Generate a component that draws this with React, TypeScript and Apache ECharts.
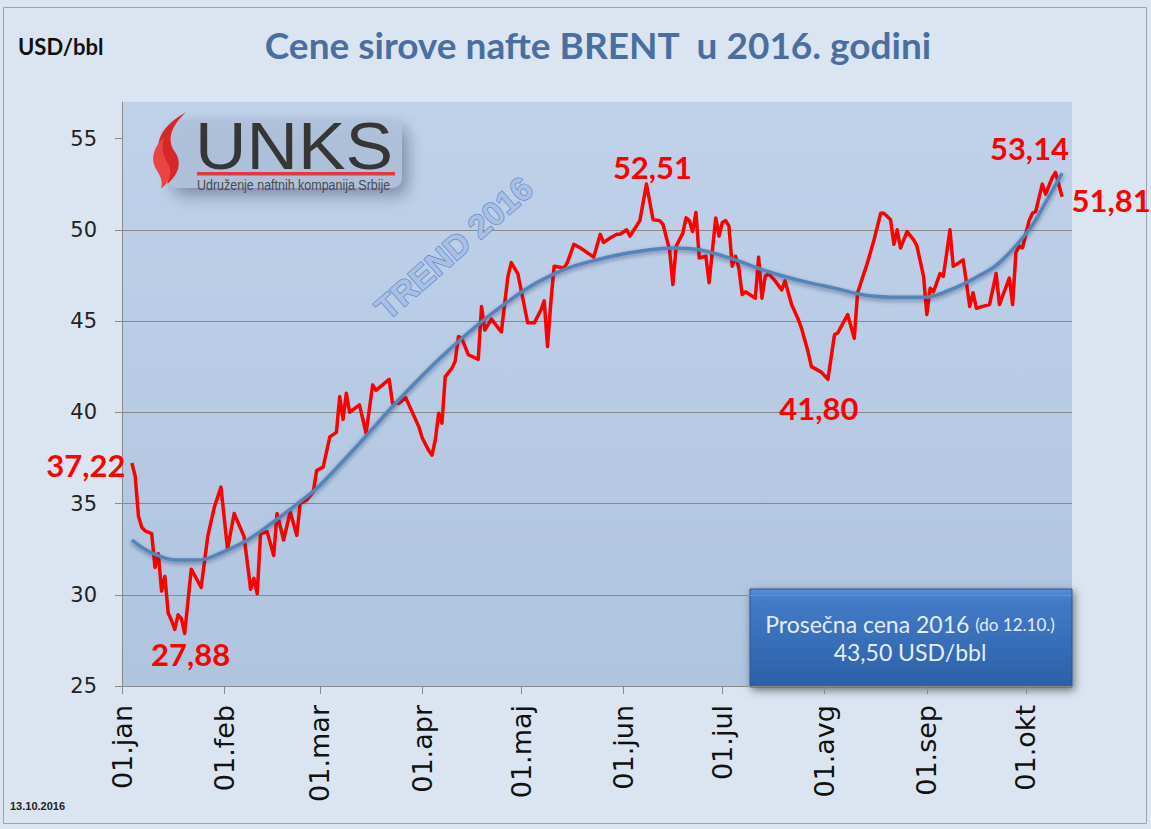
import React, { useEffect, useRef } from 'react';
import * as echarts from 'echarts';

// ---- data ----
const axisStart = '2016-01-01';
const axisEnd = '2016-10-15';
const monthNames = ['jan', 'feb', 'mar', 'apr', 'maj', 'jun', 'jul', 'avg', 'sep', 'okt', 'nov', 'dec'];
const yTicks = [25, 30, 35, 40, 45, 50, 55];

const priceDates = [
  '01-04', '01-05', '01-06', '01-07', '01-08', '01-10', '01-11', '01-12', '01-13', '01-14', '01-15', '01-16', '01-17', '01-18', '01-19', '01-20',
  '01-22', '01-25', '01-27', '01-29', '01-31', '02-02', '02-04', '02-07', '02-09', '02-10', '02-11', '02-12', '02-14', '02-16', '02-17', '02-19',
  '02-21', '02-23', '02-24', '02-26', '02-28', '02-29', '03-02', '03-04', '03-06', '03-07', '03-08', '03-09', '03-10', '03-13', '03-15', '03-17',
  '03-18', '03-20', '03-22', '03-23', '03-25', '03-27', '03-30', '03-31', '04-01', '04-03', '04-04', '04-05', '04-06', '04-07', '04-08', '04-10',
  '04-11', '04-12', '04-13', '04-15', '04-18', '04-19', '04-20', '04-22', '04-25', '04-27', '04-28', '04-30', '05-01', '05-03', '05-05', '05-07',
  '05-08', '05-09', '05-10', '05-11', '05-14', '05-15', '05-17', '05-19', '05-23', '05-25', '05-26', '05-28', '05-30', '05-31', '06-02', '06-03',
  '06-06', '06-08', '06-10', '06-12', '06-13', '06-15', '06-16', '06-17', '06-19', '06-20', '06-21', '06-22', '06-23', '06-24', '06-26', '06-27',
  '06-29', '06-30', '07-01', '07-02', '07-03', '07-04', '07-05', '07-06', '07-07', '07-08', '07-11', '07-12', '07-13', '07-14', '07-15', '07-17',
  '07-19', '07-20', '07-22', '07-24', '07-25', '07-27', '07-28', '07-31', '08-02', '08-04', '08-05', '08-08', '08-10', '08-11', '08-12', '08-14',
  '08-16', '08-18', '08-19', '08-21', '08-22', '08-23', '08-24', '08-26', '08-28', '08-29', '08-31', '09-01', '09-02', '09-03', '09-05', '09-06',
  '09-07', '09-08', '09-09', '09-10', '09-12', '09-13', '09-14', '09-15', '09-16', '09-18', '09-20', '09-22', '09-23', '09-26', '09-27', '09-28',
  '09-29', '09-30', '10-02', '10-03', '10-04', '10-06', '10-07', '10-09', '10-10', '10-12',
];
const priceValues = [
  37.22, 36.5, 34.3, 33.7, 33.5, 33.35, 31.5, 32.25, 30.2, 31.0, 29.0, 28.6, 28.1, 28.9, 28.7, 27.88,
  31.4, 30.4, 33.2, 34.8, 35.9, 32.5, 34.45, 33.2, 30.3, 30.9, 30.05, 33.35, 33.45, 32.15, 34.45, 33.0,
  34.55, 33.25, 35.0, 35.2, 35.65, 36.8, 37.0, 38.65, 38.9, 40.86, 39.6, 41.04, 40.0, 40.4, 38.85, 41.5,
  41.2, 41.5, 41.8, 40.5, 40.5, 40.8, 39.6, 39.2, 38.6, 37.9, 37.65, 38.5, 39.95, 39.4, 41.95, 42.4,
  42.8, 44.15, 44.05, 43.15, 42.9, 45.8, 44.5, 45.1, 44.4, 47.45, 48.2, 47.6, 46.7, 44.9, 44.9, 45.6,
  46.1, 43.6, 46.0, 48.0, 47.9, 48.2, 49.2, 49.0, 48.5, 49.75, 49.3, 49.55, 49.75, 49.75, 50.0, 49.65,
  50.5, 52.51, 50.55, 50.5, 50.3, 48.9, 47.0, 49.1, 49.8, 50.65, 50.5, 49.9, 50.95, 48.45, 48.55, 47.1,
  50.65, 49.65, 50.4, 50.5, 50.2, 48.0, 48.55, 47.9, 46.45, 46.6, 46.25, 48.5, 46.25, 47.45, 47.6, 47.2,
  46.7, 47.2, 45.9, 45.1, 44.6, 43.3, 42.5, 42.2, 41.8, 44.25, 44.35, 45.35, 44.05, 46.55, 47.1, 48.2,
  49.45, 50.9, 50.9, 50.55, 49.2, 50.0, 49.0, 49.9, 49.45, 49.1, 47.45, 45.35, 46.8, 46.6, 47.6, 47.45,
  48.7, 50.0, 48.0, 48.1, 48.35, 47.1, 45.8, 46.55, 45.7, 45.8, 45.9, 47.6, 45.9, 47.35, 45.9, 48.75,
  49.1, 49.0, 50.5, 50.9, 51.0, 52.5, 51.95, 52.85, 53.14, 51.81,
];

const trendDates = [
  '01-04', '01-10', '01-18', '01-24', '01-31', '02-08', '02-16', '02-24', '03-01', '03-13', '03-25', '04-09', '04-25', '05-10', '05-25', '06-09',
  '06-16', '06-24', '07-04', '07-15', '07-25', '08-04', '08-14', '08-24', '08-31', '09-08', '09-16', '09-23', '10-02', '10-07', '10-12',
];
const trendValues = [
  33.0, 32.3, 31.9, 31.9, 32.3, 33.0, 34.0, 35.1, 36.0, 38.3, 40.7, 43.4, 45.8, 47.5, 48.4, 48.9,
  49.0, 48.9, 48.4, 47.7, 47.2, 46.8, 46.4, 46.3, 46.3, 46.7, 47.4, 48.2, 50.0, 51.5, 53.1,
];

const annotationDates = ['01-04', '01-20', '06-08', '08-02', '10-10', '10-12'];
const annotationValues = [37.22, 27.88, 52.51, 41.8, 53.14, 51.81];
const annotationTexts = ['37,22', '27,88', '52,51', '41,80', '53,14', '51,81'];
const annotationPlacement: any[] = [
  { position: 'left', distance: 6, offset: [0, 2] },
  { position: 'bottom', distance: 5, offset: [6, 0] },
  { position: 'top', distance: 1, offset: [6, 0] },
  { position: 'bottom', distance: 13, offset: [-9, 0] },
  { position: 'top', distance: 8, offset: [-26, 0] },
  { position: 'right', distance: 9, offset: [0, 3] },
];

const titleText = 'Cene sirove nafte BRENT  u 2016. godini';
const unitText = 'USD/bbl';
const boxLine1 = 'Prosečna cena 2016';
const boxLine1Small = '(do 12.10.)';
const boxLine2 = '43,50 USD/bbl';
const dateStamp = '13.10.2016';

const flameA = 'M32 0 C14 12 5 25 7 40 C8 51 17 58 15 75 C26 64 28 52 22 42 C15 31 16 17 32 0 Z';
const flameB = 'M12 26 C1 38 -1 51 6 62 C9 68 11 73 9 80 C18 72 20 62 15 53 C11 45 9 36 12 26 Z';

function buildCategories(): string[] {
  const out: string[] = [];
  const d = new Date(axisStart + 'T00:00:00Z');
  const end = new Date(axisEnd + 'T00:00:00Z');
  while (d.getTime() <= end.getTime()) {
    out.push(d.toISOString().slice(0, 10));
    d.setUTCDate(d.getUTCDate() + 1);
  }
  return out;
}

let shapesRegistered = false;
function registerShapes() {
  if (shapesRegistered) return;
  echarts.graphic.registerShape('flameA', (echarts.graphic as any).extendPath(flameA, {}));
  echarts.graphic.registerShape('flameB', (echarts.graphic as any).extendPath(flameB, {}));
  shapesRegistered = true;
}

export default function App() {
  const ref = useRef<HTMLDivElement>(null);

  useEffect(() => {
    if (!ref.current) return;
    registerShapes();
    const chart = echarts.init(ref.current, undefined, { renderer: 'svg' });
    const categories = buildCategories();
    const isMonthStart = (_i: number, v: string) => v.slice(8, 10) === '01';

    const priceData = priceDates.map((d, i) => ['2016-' + d, priceValues[i]]);
    const trendData = trendDates.map((d, i) => ['2016-' + d, trendValues[i]]);

    const markData = annotationDates.map((d, i) => ({
      coord: ['2016-' + d, annotationValues[i]],
      label: {
        show: true,
        formatter: annotationTexts[i],
        color: '#ff0000',
        fontSize: 31,
        fontWeight: 'bold',
        fontFamily: 'Lato',
        ...annotationPlacement[i],
      },
    }));

    const option: any = {
      animation: false,
      backgroundColor: '#dbe5f1',
      grid: {
        left: 122,
        right: 79,
        top: 102,
        bottom: 143,
        show: true,
        borderWidth: 0,
        backgroundColor: new echarts.graphic.LinearGradient(0, 0, 0, 1, [
          { offset: 0, color: '#c0d2ea' },
          { offset: 1, color: '#afc4df' },
        ]),
      },
      xAxis: {
        type: 'category',
        data: categories,
        boundaryGap: false,
        axisLine: { lineStyle: { color: '#8a8a8a', width: 1 } },
        axisTick: { show: true, interval: isMonthStart, length: 8, lineStyle: { color: '#8a8a8a' } },
        axisLabel: {
          interval: isMonthStart,
          rotate: 90,
          margin: 19,
          color: '#111',
          fontFamily: 'DejaVu Sans',
          fontSize: 27,
          formatter: (v: string) => '01.' + monthNames[parseInt(v.slice(5, 7), 10) - 1],
        },
        splitLine: { show: false },
      },
      yAxis: {
        type: 'value',
        min: 25,
        max: 57,
        interval: 5,
        axisLine: { show: true, lineStyle: { color: '#8a8a8a' } },
        axisTick: { show: true, length: 7, lineStyle: { color: '#8a8a8a' }, customValues: yTicks },
        axisLabel: {
          customValues: yTicks,
          margin: 25,
          color: '#222',
          fontFamily: 'DejaVu Sans',
          fontSize: 21,
        },
        splitLine: { show: true, showMaxLine: false, lineStyle: { color: '#8a8a8a', width: 1 } },
      },
      series: [
        {
          type: 'line',
          name: 'Brent',
          data: priceData,
          showSymbol: false,
          symbol: 'none',
          lineStyle: { color: '#ff0000', width: 3.5, join: 'round' },
          z: 3,
          markPoint: {
            symbol: 'circle',
            symbolSize: 1,
            itemStyle: { color: 'rgba(0,0,0,0)' },
            silent: true,
            data: markData,
          },
        },
        {
          type: 'line',
          name: 'Trend',
          data: trendData,
          smooth: 0.4,
          showSymbol: false,
          symbol: 'none',
          lineStyle: {
            color: '#5584bb',
            width: 3.5,
            shadowBlur: 4,
            shadowColor: 'rgba(20,40,80,0.45)',
            shadowOffsetY: 2,
          },
          z: 4,
        },
      ],
      graphic: [
        {
          type: 'rect',
          shape: { x: 3.5, y: 7.5, width: 1143, height: 816 },
          style: { fill: 'none', stroke: '#9aa3ad', lineWidth: 1 },
          silent: true,
          z: -10,
        },
        {
          type: 'text',
          x: 18,
          y: 46,
          style: { text: unitText, font: 'bold 22px Lato', fill: '#111', verticalAlign: 'middle' },
        },
        {
          type: 'text',
          x: 598,
          y: 44,
          style: { text: titleText, font: 'bold 37px Lato', fill: '#4a6f9f', align: 'center', verticalAlign: 'middle' },
        },
        {
          type: 'text',
          x: 10,
          y: 806,
          style: { text: dateStamp, font: 'bold 11px "Liberation Sans Narrow", "Liberation Sans"', fill: '#222', verticalAlign: 'middle' },
        },
        {
          type: 'group',
          z: 50,
          children: [
            {
              type: 'rect',
              shape: { x: 168, y: 120, width: 234, height: 68, r: 10 },
              style: {
                fill: 'rgba(176,194,220,0.9)',
                shadowBlur: 16,
                shadowColor: 'rgba(30,40,60,0.45)',
                shadowOffsetX: 5,
                shadowOffsetY: 7,
              },
            },
            { type: 'flameA', x: 151, y: 112, scaleX: 1.1, scaleY: 0.96, style: { fill: '#d62828' } },
            { type: 'flameB', x: 151, y: 112, scaleX: 1.1, scaleY: 0.96, style: { fill: '#e84444' } },
            {
              type: 'text',
              x: 195,
              y: 146,
              scaleX: 1.08,
              style: { text: 'UNKS', font: '66px "Liberation Sans"', lineHeight: 48, fill: '#363636', verticalAlign: 'middle' },
            },
            {
              type: 'rect',
              shape: { x: 197, y: 172, width: 198, height: 3.5 },
              style: { fill: '#e03a3a' },
            },
            {
              type: 'text',
              x: 197,
              y: 185,
              scaleX: 0.89,
              style: {
                text: 'Udruženje naftnih kompanija Srbije',
                font: '14px "Liberation Sans"',
                lineHeight: 13,
                fill: '#4a4a4a',
                verticalAlign: 'middle',
              },
            },
          ],
        },
        {
          type: 'text',
          x: 454,
          y: 248,
          rotation: 0.72,
          z: 40,
          style: {
            text: 'TREND 2016',
            font: 'bold 33px "Liberation Sans"',
            fill: '#a9c0e6',
            stroke: '#6285c4',
            lineWidth: 1.4,
            align: 'center',
            verticalAlign: 'middle',
          },
        },
        {
          type: 'group',
          z: 60,
          children: [
            {
              type: 'rect',
              shape: { x: 750, y: 589, width: 322, height: 98 },
              style: {
                fill: new echarts.graphic.LinearGradient(0, 0, 0, 1, [
                  { offset: 0, color: '#5a8ed6' },
                  { offset: 0.12, color: '#437ac6' },
                  { offset: 1, color: '#2c60a8' },
                ]),
                stroke: '#2a5591',
                lineWidth: 1,
                shadowBlur: 8,
                shadowColor: 'rgba(0,0,0,0.5)',
                shadowOffsetX: 2,
                shadowOffsetY: 3,
              },
            },
            {
              type: 'text',
              x: 910,
              y: 624,
              style: {
                text: '{a|' + boxLine1 + ' }{b|' + boxLine1Small + '}',
                align: 'center',
                verticalAlign: 'middle',
                rich: {
                  a: { font: '23px Lato', fill: '#e4ecf7' },
                  b: { font: '17px Lato', fill: '#e4ecf7' },
                },
              },
            },
            {
              type: 'text',
              x: 910,
              y: 652,
              style: { text: boxLine2, font: '23px Lato', fill: '#e4ecf7', align: 'center', verticalAlign: 'middle' },
            },
          ],
        },
      ],
    };

    chart.setOption(option);
    return () => chart.dispose();
  }, []);

  return (
    <div
      ref={ref}
      style={{ position: 'fixed', left: 0, top: 0, width: 1151, height: 829 }}
    />
  );
}
